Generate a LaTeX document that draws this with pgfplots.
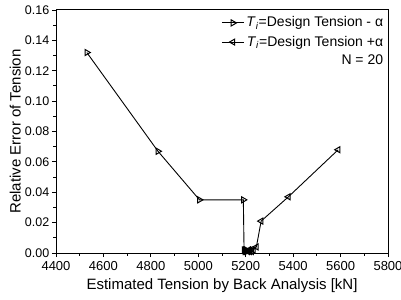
\documentclass[border=0pt]{standalone}
\usepackage{pgfplots}
\pgfplotsset{compat=1.18}
\usepackage{fontspec}
\setmainfont{Liberation Sans}
\begin{document}
\fontsize{13.5bp}{16bp}\selectfont
\begin{tikzpicture}
\path[use as bounding box] (-56bp,-47bp) rectangle (345bp,253bp);
\begin{axis}[
  at={(0,0)}, anchor=south west,
  scale only axis,
  width=332bp, height=243bp,
  xmin=4400, xmax=5800, ymin=0, ymax=0.16,
  xtick={4400,4600,...,5800},
  ytick={0,0.02,...,0.16},
  minor x tick num=1, minor y tick num=1,
  tick pos=left, tick align=outside,
  major tick length=4bp, minor tick length=2.5bp,
  /pgf/number format/assume math mode=true,
  x tick label style={/pgf/number format/1000 sep={}, font=\fontsize{13bp}{15bp}\selectfont},
  y tick label style={/pgf/number format/fixed, /pgf/number format/fixed zerofill, /pgf/number format/precision=2,
    font=\fontsize{12.5bp}{15bp}\selectfont, xshift=2bp},
  scaled y ticks=false,
  xlabel={Estimated Tension by Back Analysis [kN]},
  ylabel={Relative Error of Tension},
  label style={font=\fontsize{15bp}{17bp}\selectfont},
  xlabel style={yshift=1bp},
  ylabel style={yshift=-5bp},
  axis line style={line width=1pt},
  every tick/.style={line width=0.9pt, black},
  legend style={draw=none, fill=none, at={(0.995,0.985)}, anchor=north east,
    font=\fontsize{14bp}{15bp}\selectfont, row sep=3bp, inner sep=1bp},
  legend cell align=right,
  legend image code/.code={
    \draw[mark repeat=2,mark phase=2,#1] plot coordinates {(0bp,0bp) (11bp,0bp) (22bp,0bp)};},
]
\addplot[black, line width=0.9pt, mark=triangle, mark size=3.5bp, mark options={rotate=-90, fill=white, solid, line width=1pt}]
coordinates {
(4530,0.132) (4830,0.067) (5005,0.035) (5190,0.035) (5193,0.002)
(5196,0.001) (5199,0.002) (5201,0.001) (5203,0.002) (5205,0.001)
};
\addlegendentry{\textit{T}\textsubscript{\textit{i}}=Design Tension - α}
\addplot[black, line width=0.9pt, mark=triangle, mark size=3.5bp, mark options={rotate=90, fill=white, solid, line width=1pt}]
coordinates {
(5208,0.001) (5212,0.002) (5216,0.001) (5220,0.002) (5225,0.001)
(5232,0.002) (5245,0.004) (5265,0.021) (5380,0.037) (5590,0.068)
};
\addlegendentry{\textit{T}\textsubscript{\textit{i}}=Design Tension +α}
\addlegendimage{empty legend}
\addlegendentry{N = 20}
\end{axis}
\end{tikzpicture}
\end{document}
